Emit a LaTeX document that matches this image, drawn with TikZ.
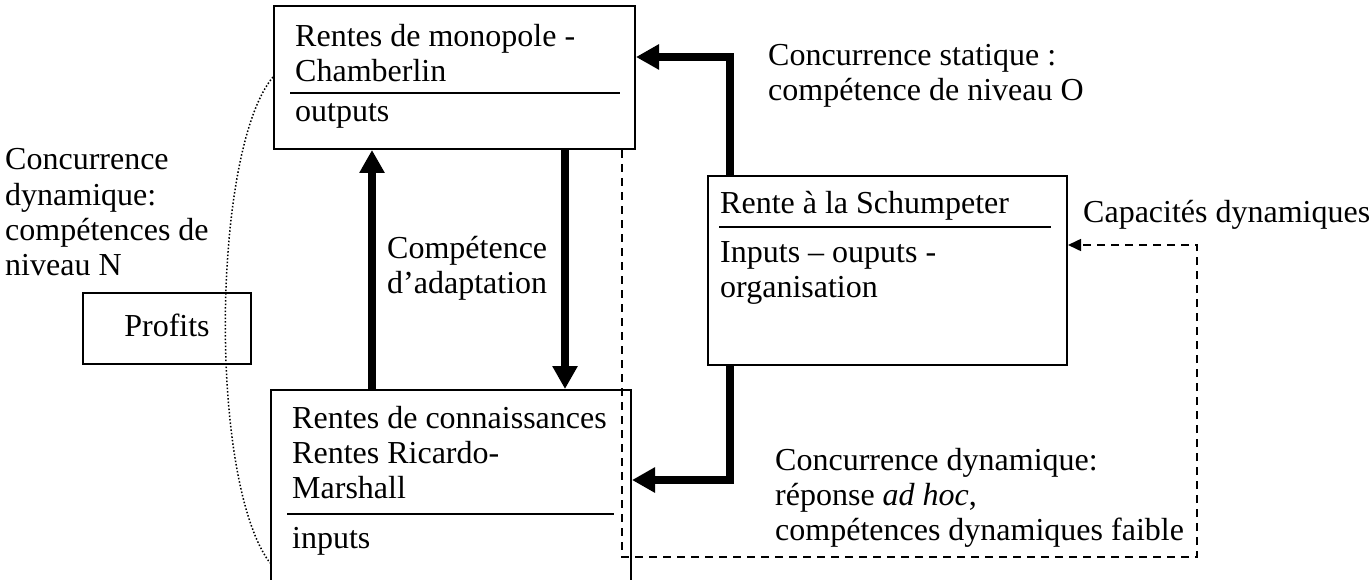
\documentclass[tikz,border=0pt]{standalone}
\usepackage{fontspec}
\setmainfont{Liberation Serif}
\usetikzlibrary{arrows.meta}
\begin{document}
\begin{tikzpicture}[x=1pt,y=-1pt,
  box/.style={draw, line width=2pt, inner sep=0pt, anchor=north west},
  txt/.style={inner sep=0pt, anchor=base west, font=\fontsize{32}{35}\selectfont},
  rule/.style={line width=2pt},
  bigarrow/.style={line width=7.5pt, -{Triangle[length=23pt,width=24pt]}},
  dasharrow/.style={line width=1.6pt, dash pattern=on 8pt off 6pt, -{Triangle[length=13pt,width=12pt]}},
  dotline/.style={line width=1.5pt, dotted}]
\useasboundingbox (0,0) rectangle (1372,580);
\clip (0,0) rectangle (1372,580);
% boxes
\node[box, minimum width=361pt, minimum height=143pt] (mono) at (273,5) {};
\node[box, minimum width=359pt, minimum height=189pt] (schum) at (707,175) {};
\node[box, minimum width=360pt, minimum height=230pt] (know) at (270,389) {};
\node[box, minimum width=168pt, minimum height=71pt] (prof) at (82,292) {};
% box texts
\node[txt] (m1) at (295,47) {Rentes de monopole -};
\node[txt] (m2) at (295,82) {Chamberlin};
\draw[rule] ([xshift=17pt]mono.north west |- 0,93) coordinate (mr1) -- ([xshift=-16pt]mono.north east |- 0,93) coordinate (mr2);
\node[txt] (m3) at (295,122) {outputs};
\node[txt] (s1) at (720,213) {Rente à la Schumpeter};
\draw[rule] ([xshift=12pt]schum.north west |- 0,227) coordinate (sr1) -- ([xshift=-17pt]schum.north east |- 0,227) coordinate (sr2);
\node[txt] (s2) at (720,262) {Inputs -- ouputs -};
\node[txt] (s3) at (720,297) {organisation};
\node[txt] (k1) at (292,428) {Rentes de connaissances};
\node[txt] (k2) at (292,463) {Rentes Ricardo-};
\node[txt] (k3) at (292,498) {Marshall};
\draw[rule] ([xshift=17pt]know.north west |- 0,514) coordinate (kr1) -- ([xshift=-18pt]know.north east |- 0,514) coordinate (kr2);
\node[txt] (k4) at (292,548) {inputs};
\node[txt, anchor=base] (p1) at (prof.center |- 0,336) {Profits};
% free labels
\node[txt] (l1) at (5,170) {Concurrence};
\node[txt] (l2) at (5,205) {dynamique:};
\node[txt] (l3) at (5,240) {compétences de};
\node[txt] (l4) at (5,275) {niveau N};
\node[txt] (c1) at (387,258) {Compétence};
\node[txt] (c2) at (387,293) {d’adaptation};
\node[txt] (st1) at (768,66) {Concurrence statique :};
\node[txt] (st2) at (768,101) {compétence de niveau O};
\node[txt] (cap) at (1083,222) {Capacités dynamiques};
\node[txt] (d1) at (775,470) {Concurrence dynamique:};
\node[txt] (d2) at (775,505) {réponse \textit{ad hoc},};
\node[txt] (d3) at (775,540) {compétences dynamiques faible};
% thick arrows
\draw[bigarrow] ([xshift=102pt]know.north west) -- ([xshift=102pt]know.north west |- mono.south);
\draw[bigarrow] ([xshift=-71pt]mono.south east) -- ([xshift=-71pt]mono.south east |- know.north);
\draw[bigarrow] ([xshift=23pt]schum.north west) |- ([yshift=-52pt]mono.north east);
\draw[bigarrow] ([xshift=23pt]schum.south west) |- ([yshift=-91pt]know.north east);
% dashed connector
\coordinate (dA) at ([xshift=-14pt]mono.south east);
\coordinate (dB) at (dA |- 0,557);
\coordinate (dC) at (1197,557);
\draw[dasharrow] (dA) -- (dB) -- (dC) |- ([yshift=-70pt]schum.north east);
% dotted arc
\draw[dotline] ([yshift=73pt]mono.south west) .. controls (212,150) and (208,480) .. ([yshift=-174pt]know.north west);
\end{tikzpicture}
\end{document}
